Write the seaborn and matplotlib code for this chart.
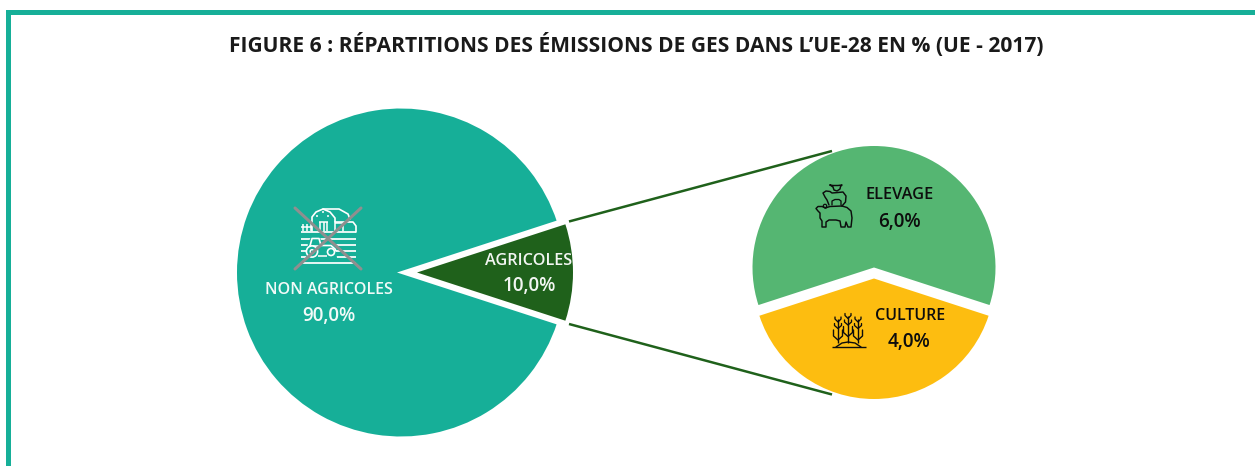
import numpy as np
import matplotlib
matplotlib.use("Agg")
import matplotlib.pyplot as plt
from matplotlib.patches import Circle, Rectangle, Polygon
import seaborn as sns

# ---- data ----
main_labels = ["NON AGRICOLES", "AGRICOLES"]
main_values = [90.0, 10.0]
detail_labels = ["ELEVAGE", "CULTURE"]
detail_values = [6.0, 4.0]
title_text = "FIGURE 6 : RÉPARTITIONS DES ÉMISSIONS DE GES DANS L’UE-28 EN % (UE - 2017)"

TEAL = "#16AF98"; DARK = "#1F611B"; GREEN = "#55B672"; YELLOW = "#FDBD10"
GREY = "#8F8F8F"; BLACK = "#0D0D0D"

W, H = 1255, 466
sns.set_theme(style="white")
plt.rcParams["font.family"] = ["Open Sans", "DejaVu Sans"]

fig = plt.figure(figsize=(W / 100, H / 100), dpi=100, facecolor="white")
ax = fig.add_axes([0, 0, 1, 1])


def Y(py):
    return H - py


def fmt(v):
    return f"{v:.1f}".replace(".", ",") + "%"


NOEDGE = {"linewidth": 0, "edgecolor": "none"}

# main pie: teal disc, white notch, then dark slice pulled out
ax.pie(main_values, colors=[TEAL, "none"], startangle=18, center=(401, Y(272.5)),
       radius=164, frame=True, wedgeprops=NOEDGE)
ax.pie(main_values, colors=["none", "white"], startangle=18, center=(397, Y(272.5)),
       radius=176, frame=True, wedgeprops=NOEDGE)
ax.pie(main_values, colors=["none", DARK], startangle=18, center=(417, Y(272.5)),
       radius=156, frame=True, wedgeprops=NOEDGE)

# connectors
ax.plot([569, 832], [Y(221.5), Y(151)], color=DARK, lw=1.8, solid_capstyle="butt", zorder=0.5)
ax.plot([569, 832], [Y(324), Y(394.5)], color=DARK, lw=1.8, solid_capstyle="butt", zorder=0.5)

# detail pie: two slices with different centres
ax.pie(detail_values, colors=[GREEN, "none"], startangle=-18, center=(874, Y(267.5)),
       radius=121.5, frame=True, wedgeprops=NOEDGE)
ax.pie(detail_values, colors=["none", YELLOW], startangle=-18, center=(874, Y(278.5)),
       radius=120.5, frame=True, wedgeprops=NOEDGE)

ax.set_xlim(0, W)
ax.set_ylim(0, H)
ax.set_aspect("equal")
ax.set_axis_off()

# frame (open on right and bottom)
ax.add_patch(Rectangle((6, Y(466)), 5, 456, fc=TEAL, ec="none", zorder=5))
ax.add_patch(Rectangle((6, Y(15)), W - 6, 5, fc=TEAL, ec="none", zorder=5))

# text
ax.text(636, Y(44.5), title_text, ha="center", va="center", fontsize=15.1,
        fontweight="bold", color="#1a1a1a", zorder=6)


def lab(x, y, s, c, fs=11.5):
    ax.text(x, Y(y), s, ha="center", va="center", fontsize=fs, fontweight=600, color=c, zorder=6)


lab(328.5, 290.5, main_labels[0], "#F2FAF8")
lab(328.5, 316.5, fmt(main_values[0]), "#F2FAF8", 13.6)
lab(529, 261, main_labels[1], "#F2F6F2", 11.7)
lab(529, 286.5, fmt(main_values[1]), "#F2F6F2", 13.6)
lab(899.5, 195, detail_labels[0], BLACK, 11.8)
lab(899, 222, fmt(detail_values[0]), BLACK, 13.6)
lab(910, 316.5, detail_labels[1], BLACK)
lab(909.5, 342.5, fmt(detail_values[1]), BLACK, 13.6)


# ---- icons drawn in pixel coordinates ----
def seg(x0, y0, x1, y1, c, lw=1.0, z=7):
    ax.plot([x0, x1], [Y(y0), Y(y1)], color=c, lw=lw, solid_capstyle="butt", zorder=z)


def poly(pts, c, lw=1.0, z=7):
    ax.plot([p[0] for p in pts], [Y(p[1]) for p in pts], color=c, lw=lw,
            solid_capstyle="round", solid_joinstyle="round", zorder=z)


def circ(x, y, r, c, lw=1.0, fc="none", z=7):
    ax.add_patch(Circle((x, Y(y)), r, fc=fc, ec=c, lw=lw, zorder=z))


# farm
Wt = "white"
for y in (232, 239, 245, 251, 257, 262.5):
    seg(301, y, 356, y, Wt, 1.25)
# barn
poly([(312, 231), (312, 217), (316, 212), (323, 209), (330, 212), (335, 218), (335, 222)], Wt, 1.2)
poly([(323, 209), (339, 209), (348, 214), (350, 219)], Wt, 1.2)
poly([(335, 222), (353, 222), (356, 226), (356, 232)], Wt, 1.2)
for x in (320, 323.5, 327):
    seg(x, 222, x, 231, Wt, 1.1)
seg(319, 222, 328, 222, Wt, 1.1)
poly([(335, 231), (335, 223), (343, 223), (343, 231)], Wt, 1.1)
for p in [(317, 216), (328, 216), (323, 212)]:
    circ(p[0], p[1], 0.7, Wt, 0.4, fc=Wt)
# fence
for x in (303, 307, 311):
    seg(x, 224, x, 231, Wt, 1.1)
seg(301, 227, 312, 227, Wt, 1.1)
# tractor (teal block breaks the field lines)
ax.add_patch(Polygon([(308, Y(243)), (311, Y(237)), (320, Y(237)), (322, Y(244)), (335, Y(244)),
                      (337, Y(258)), (306, Y(258))], fc=TEAL, ec="none", zorder=7))
poly([(310, 246), (312, 238.5), (319, 238.5), (321, 245.5), (331, 245.5), (335, 249), (336, 251)], Wt, 1.2, 7.2)
seg(309, 245.5, 321, 245.5, Wt, 1.1, 7.2)
seg(318, 256, 327, 256, Wt, 1.1, 7.2)
circ(312, 251.5, 5.6, Wt, 1.2, fc=TEAL, z=7.3)
circ(312, 251.5, 1.8, Wt, 1.0, z=7.3)
circ(331, 252, 3.5, Wt, 1.2, fc=TEAL, z=7.3)
# cross
ax.plot([295, 361], [Y(208), Y(269)], color=GREY, lw=2.2, zorder=8)
ax.plot([361, 295], [Y(208), Y(269)], color=GREY, lw=2.2, zorder=8)

# animals
LW = 1.05
poly([(826, 208), (822, 206.5), (818, 206.5), (816, 208.5), (818, 211), (820, 213), (820, 218), (822, 221),
      (822, 227), (826, 227), (826, 222), (829, 220), (836, 220), (840, 221), (841, 227), (845, 227),
      (846, 222), (848, 227), (851, 227), (852, 218), (851, 211), (847, 207.5), (842, 206)], BLACK, LW)
poly([(825, 208), (830, 206.5), (842, 206)], BLACK, LW)
circ(825, 206, 1.7, BLACK, 0.9)
poly([(829, 205), (827, 200), (825, 197), (823, 193), (826, 191), (830, 191.5), (832, 193), (838, 192.5),
      (843, 192), (846, 196), (845.5, 202), (842, 206)], BLACK, LW)
poly([(832, 205), (832, 201), (835, 199.5), (839, 199.5), (841, 201), (841, 205)], BLACK, 0.95)
poly([(830, 185), (833, 187), (834, 190), (837, 191), (840, 189), (840.5, 186.5), (842, 185), (838, 185.5),
      (833, 185.5), (830, 185)], BLACK, LW)

# crops
for x, top in [(838, 317), (848, 313.5), (858, 317)]:
    seg(x, top + 2, x, 343, BLACK, 1.0)
    for y, d, h in [(top, 3, 3), (top + 6.5, 3.5, 3)]:
        poly([(x - d, y), (x - d, y + 2), (x, y + h + 2), (x + d, y + 2), (x + d, y)], BLACK, 0.95)
    y = top + 13
    poly([(x - 4.5, y), (x - 4.5, y + 6), (x, y + 10), (x + 4.5, y + 6), (x + 4.5, y)], BLACK, 1.0)
seg(832, 347, 865.5, 347, BLACK, 1.0)
poly([(836, 347), (842, 343), (848, 342), (855, 343), (861, 347)], BLACK, 1.0)

fig.savefig("out.png", dpi=100, facecolor="white")
